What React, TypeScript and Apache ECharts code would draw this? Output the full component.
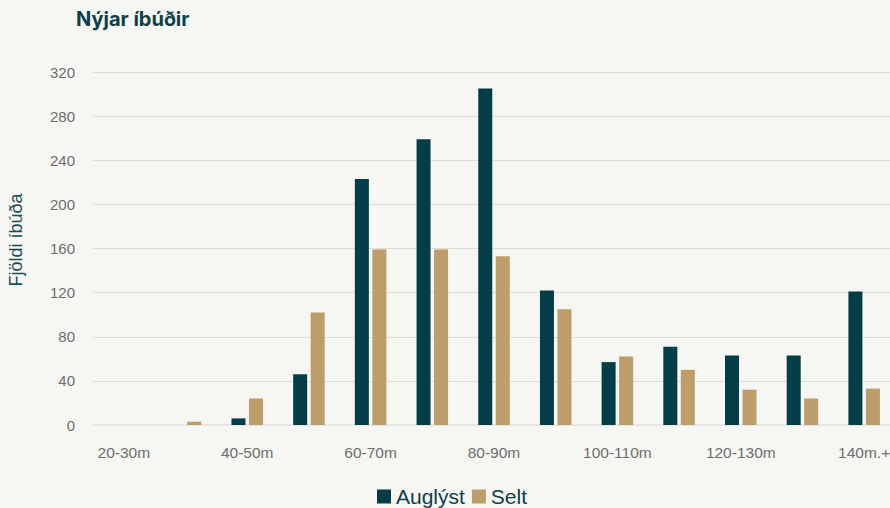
import React, { useEffect, useRef } from "react";
import * as echarts from "echarts";

const categories = ["20-30m", "30-40m", "40-50m", "50-60m", "60-70m", "70-80m", "80-90m", "90-100m", "100-110m", "110-120m", "120-130m", "130-140m", "140m.+"];
const auglyst = [0, 0, 6, 46, 223, 259, 305, 122, 57, 71, 63, 63, 121];
const selt = [0, 3, 24, 102, 159, 159, 153, 105, 62, 50, 32, 24, 33];
const yTicks = { min: 0, max: 320, interval: 40 };

const DARK = "#033d48";
const TAN = "#bd9d6a";
const BG = "#f6f6f2";

export default function App() {
  const ref = useRef<HTMLDivElement>(null);
  useEffect(() => {
    if (!ref.current) return;
    const chart = echarts.init(ref.current, null, { renderer: "svg" });
    chart.setOption({
      animation: false,
      backgroundColor: BG,
      textStyle: { fontFamily: "Liberation Sans, Arial, sans-serif" },
      title: {
        text: "Nýjar íbúðir",
        left: 71,
        top: 4,
        textStyle: { color: "#0d3f48", fontSize: 20, fontWeight: "bold", fontFamily: "Inter, sans-serif" },
      },
      legend: {
        data: ["Auglýst", "Selt"],
        left: 372,
        top: 481,
        icon: "rect",
        itemWidth: 14,
        itemHeight: 14,
        itemGap: 7,
        textStyle: { color: "#0d3f48", fontSize: 21 },
      },
      graphic: [
        {
          type: "text",
          x: 16,
          y: 240,
          rotation: Math.PI / 2,
          style: {
            text: "Fjöldi íbúða",
            fill: "#1b4b55",
            fontSize: 18,
            fontFamily: "Liberation Sans, Arial, sans-serif",
            align: "center",
            verticalAlign: "middle",
          },
        },
      ],
      grid: { left: 93, right: 0, top: 72, bottom: 83, containLabel: false },
      xAxis: {
        type: "category",
        data: categories,
        axisTick: { show: false },
        axisLine: { show: true, lineStyle: { color: "#e6e6e2", width: 2 } },
        axisLabel: { interval: 1, color: "#6e6e6e", fontSize: 15.5, margin: 19 },
      },
      yAxis: {
        type: "value",
        min: yTicks.min,
        max: yTicks.max,
        interval: yTicks.interval,
        axisLabel: { color: "#6e6e6e", fontSize: 15, margin: 18 },
        splitLine: { lineStyle: { color: "#dcdcd8", width: 1 } },
        axisLine: { show: false },
        axisTick: { show: false },
      },
      series: [
        {
          name: "Auglýst",
          type: "bar",
          data: auglyst,
          barWidth: 14,
          barGap: "25%",
          itemStyle: { color: DARK },
        },
        {
          name: "Selt",
          type: "bar",
          data: selt,
          barWidth: 14,
          itemStyle: { color: TAN },
        },
      ],
    });
    return () => chart.dispose();
  }, []);
  return (
    <div
      ref={ref}
      style={{ position: "fixed", left: 0, top: 0, width: 895, height: 508, background: BG }}
    />
  );
}
